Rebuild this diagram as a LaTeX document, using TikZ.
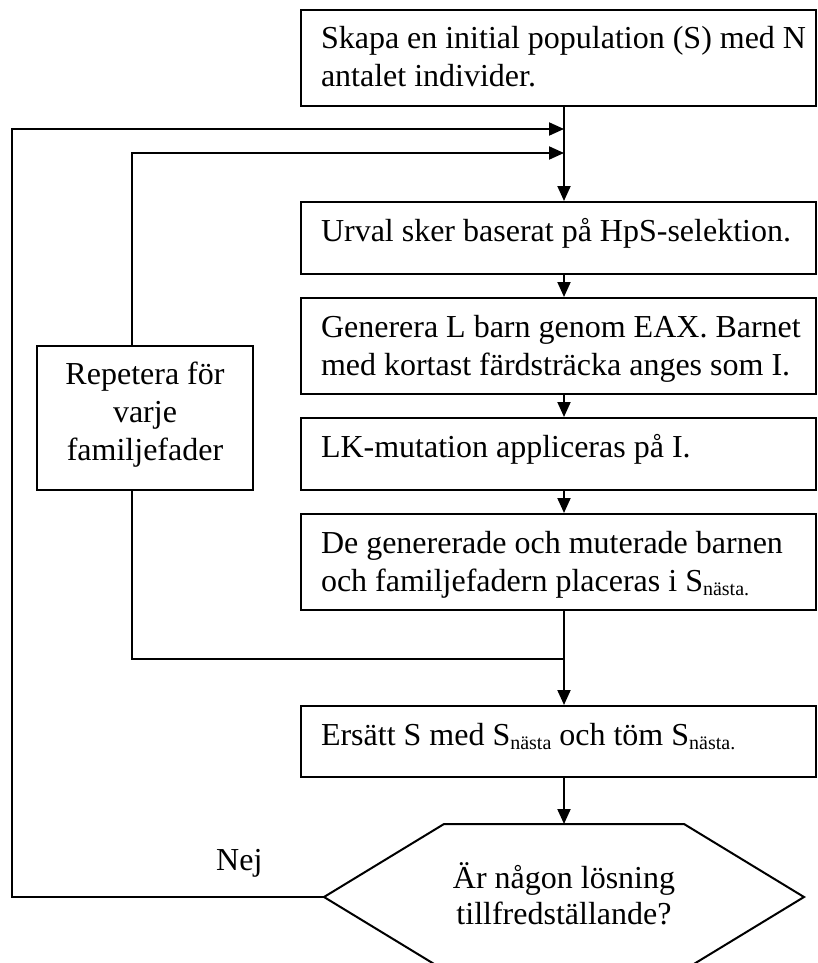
\documentclass[tikz,border=0pt]{standalone}
\usepackage{fontspec}
\setmainfont{Liberation Serif}
\usetikzlibrary{arrows.meta}

\newcommand\boxtxt[2]{\parbox[c][#1][t]{495pt}{\raggedright\leftskip=10pt\rule{0pt}{39pt}#2}}
\newcommand\sub[1]{\raisebox{-4pt}{\fontsize{20}{20}\selectfont #1}}

\begin{document}
\begin{tikzpicture}[x=1pt, y=-1pt,
    txt/.style={font=\fontsize{32}{38}\selectfont},
    box/.style={txt, draw, line width=2pt, inner xsep=10pt, inner ysep=0pt, anchor=north west},
    linje/.style={line width=2pt},
    pil/.style={linje, -{Triangle[length=15pt, width=13pt]}}]
    \useasboundingbox (0,0) rectangle (817,963);
    \clip (0,0) rectangle (817,963);
    % right column
    \node[box] (skapa) at (300,9) {\boxtxt{96pt}{Skapa en initial population (S) med N\\antalet individer.}};
    \node[box] (urval) at (300,201) {\boxtxt{72pt}{Urval sker baserat på HpS-selektion.}};
    \node[box] (generera) at (300,297) {\boxtxt{96pt}{Generera L barn genom EAX. Barnet\\med kortast färdsträcka anges som I.}};
    \node[box] (mutera) at (300,417) {\boxtxt{72pt}{LK-mutation appliceras på I.}};
    \node[box] (placera) at (300,513) {\boxtxt{96pt}{De genererade och muterade barnen\\och familjefadern placeras i S\sub{nästa.}}};
    \node[box] (ersatt) at (300,705) {\boxtxt{71pt}{Ersätt S med S\sub{nästa} och töm S\sub{nästa.}}};
    \node[box] (repetera) at (36,345) {\parbox[c][144pt][t]{196pt}{\centering\rule{0pt}{38pt}Repetera för\\varje\\familjefader}};
    % decision
    \node[font=\fontsize{32}{36}\selectfont, align=center, anchor=north, inner sep=0pt] (beslut) at (564,849)
        {\rule{0pt}{39pt}Är någon lösning\\tillfredställande?};
    \coordinate (hexN) at (564,824);
    \coordinate (hexW) at (324,897);
    \draw[linje] (444,824) -- (684,824) -- (804,897) -- (684,970) -- (444,970) -- (hexW) -- cycle;
    \node[txt, anchor=base west, inner sep=0pt] (nej) at (216,870) {Nej};
    % connectors
    \coordinate (stam) at (564,0);
    \coordinate (yttre) at (12,129);
    \coordinate (inre) at (132,153);
    \coordinate (retur) at (564,659);
    \draw[pil] (skapa.south -| stam) -- (urval.north -| stam);
    \draw[pil] (urval.south -| stam) -- (generera.north -| stam);
    \draw[pil] (generera.south -| stam) -- (mutera.north -| stam);
    \draw[pil] (mutera.south -| stam) -- (placera.north -| stam);
    \draw[pil] (placera.south -| stam) -- (ersatt.north -| stam);
    \draw[pil] (ersatt.south -| stam) -- (hexN);
    \draw[linje] (retur) -| (repetera.south -| inre);
    \draw[pil] (repetera.north -| inre) |- (inre -| stam);
    \draw[pil] (hexW) -| (yttre) -- (yttre -| stam);
\end{tikzpicture}
\end{document}
